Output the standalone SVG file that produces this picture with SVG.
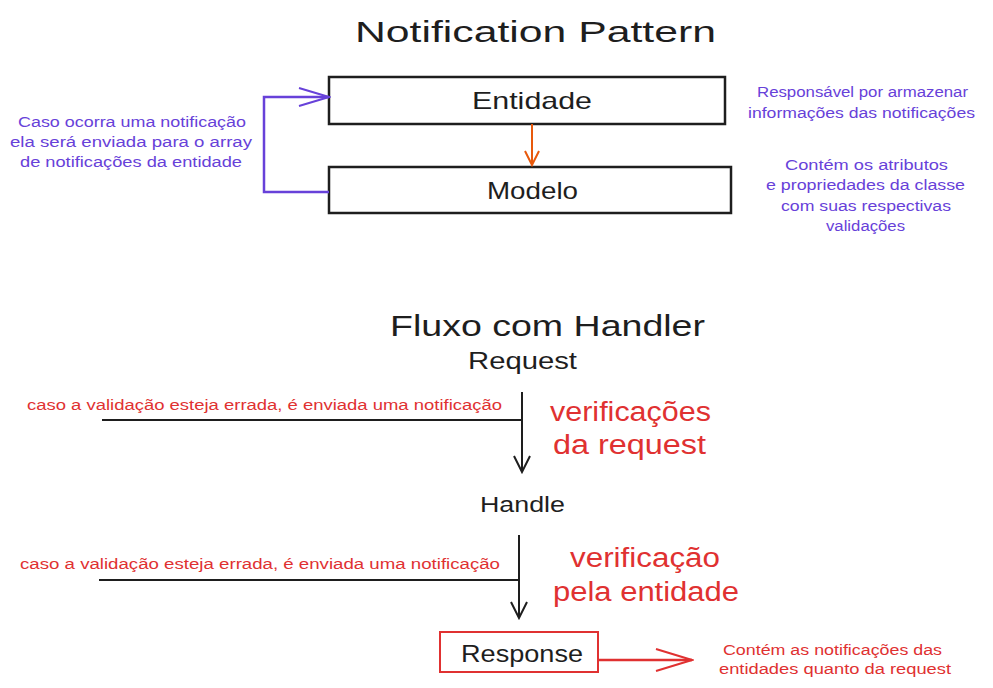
<svg xmlns="http://www.w3.org/2000/svg" width="993" height="688" viewBox="0 0 993 688">
<style>
text{font-family:"Liberation Sans","DejaVu Sans",sans-serif}
.t{fill:#1e1e1e}
.p{fill:#6741d9;font-size:14px}
.r{fill:#e03131}
.box{fill:#fff;stroke:#1e1e1e;stroke-width:2.5}
</style>
<defs>
<marker id="ab" markerWidth="20" markerHeight="20" refX="18" refY="10" orient="auto" markerUnits="userSpaceOnUse"><path d="M2,2 L18,10 L2,18" fill="none" stroke="#1e1e1e" stroke-width="2"/></marker>
<marker id="ap" markerWidth="34" markerHeight="24" refX="32" refY="12" orient="auto" markerUnits="userSpaceOnUse"><path d="M2,3 L32,12 L2,21" fill="none" stroke="#6741d9" stroke-width="2"/></marker>
<marker id="ao" markerWidth="20" markerHeight="20" refX="18" refY="10" orient="auto" markerUnits="userSpaceOnUse"><path d="M4,3 L18,10 L4,17" fill="none" stroke="#e8590c" stroke-width="2"/></marker>
<marker id="ar" markerWidth="40" markerHeight="28" refX="38" refY="14" orient="auto" markerUnits="userSpaceOnUse"><path d="M2,3 L38,14 L2,25" fill="none" stroke="#e03131" stroke-width="2"/></marker>
</defs>
<text class="t" x="355" y="42" font-size="30" textLength="361" lengthAdjust="spacingAndGlyphs">Notification Pattern</text>
<text class="t" x="390" y="336" font-size="30" textLength="315" lengthAdjust="spacingAndGlyphs">Fluxo com Handler</text>
<g id="entidade"><rect class="box" x="329" y="77" width="396" height="47"/><text class="t" x="472" y="109" font-size="24" textLength="120" lengthAdjust="spacingAndGlyphs">Entidade</text></g>
<g id="modelo"><rect class="box" x="329" y="167" width="402" height="46"/><text class="t" x="487" y="199" font-size="24" textLength="91" lengthAdjust="spacingAndGlyphs">Modelo</text></g>
<g id="request"><text class="t" x="468" y="369" font-size="24" textLength="109" lengthAdjust="spacingAndGlyphs">Request</text></g>
<g id="handle"><text class="t" x="480" y="512" font-size="22" textLength="85" lengthAdjust="spacingAndGlyphs">Handle</text></g>
<g id="response"><rect x="440" y="632" width="158" height="40" fill="#fff" stroke="#e03131" stroke-width="2"/><text class="t" x="461" y="662" font-size="24" textLength="122" lengthAdjust="spacingAndGlyphs">Response</text></g>
<g id="connectors" fill="none">
<line x1="532" y1="124" x2="532" y2="165" stroke="#e8590c" stroke-width="2" marker-end="url(#ao)"/>
<polyline points="329,192 264,192 264,97 329,97" stroke="#6741d9" stroke-width="2.5" marker-end="url(#ap)"/>
<line x1="102" y1="420" x2="522" y2="420" stroke="#1e1e1e" stroke-width="2"/>
<line x1="522" y1="392" x2="522" y2="472" stroke="#1e1e1e" stroke-width="2" marker-end="url(#ab)"/>
<line x1="99" y1="580" x2="519" y2="580" stroke="#1e1e1e" stroke-width="2"/>
<line x1="519" y1="535" x2="519" y2="618" stroke="#1e1e1e" stroke-width="2" marker-end="url(#ab)"/>
<line x1="598" y1="660" x2="692" y2="660" stroke="#e03131" stroke-width="2.5" marker-end="url(#ar)"/>
</g>
<g id="labels">
<text class="p" x="18" y="127" textLength="228" lengthAdjust="spacingAndGlyphs">Caso ocorra uma notificação</text>
<text class="p" x="10" y="147" textLength="242" lengthAdjust="spacingAndGlyphs">ela será enviada para o array</text>
<text class="p" x="20" y="167" textLength="222" lengthAdjust="spacingAndGlyphs">de notificações da entidade</text>
<text class="p" x="757" y="97" textLength="211" lengthAdjust="spacingAndGlyphs">Responsável por armazenar</text>
<text class="p" x="748" y="118" textLength="227" lengthAdjust="spacingAndGlyphs">informações das notificações</text>
<text class="p" x="785" y="170" textLength="163" lengthAdjust="spacingAndGlyphs">Contém os atributos</text>
<text class="p" x="766" y="190" textLength="199" lengthAdjust="spacingAndGlyphs">e propriedades da classe</text>
<text class="p" x="781" y="211" textLength="170" lengthAdjust="spacingAndGlyphs">com suas respectivas</text>
<text class="p" x="826" y="231" textLength="79" lengthAdjust="spacingAndGlyphs">validações</text>
<text class="r" x="27" y="410" font-size="14" textLength="475" lengthAdjust="spacingAndGlyphs">caso a validação esteja errada, é enviada uma notificação</text>
<text class="r" x="20" y="569" font-size="14" textLength="480" lengthAdjust="spacingAndGlyphs">caso a validação esteja errada, é enviada uma notificação</text>
<text class="r" x="550" y="421" font-size="27" textLength="161" lengthAdjust="spacingAndGlyphs">verificações</text>
<text class="r" x="553" y="454" font-size="27" textLength="153" lengthAdjust="spacingAndGlyphs">da request</text>
<text class="r" x="570" y="567" font-size="27" textLength="150" lengthAdjust="spacingAndGlyphs">verificação</text>
<text class="r" x="553" y="601" font-size="27" textLength="186" lengthAdjust="spacingAndGlyphs">pela entidade</text>
<text class="r" x="723" y="655" font-size="14" textLength="219" lengthAdjust="spacingAndGlyphs">Contém as notificações das</text>
<text class="r" x="719" y="674" font-size="14" textLength="232" lengthAdjust="spacingAndGlyphs">entidades quanto da request</text>
</g>
</svg>
